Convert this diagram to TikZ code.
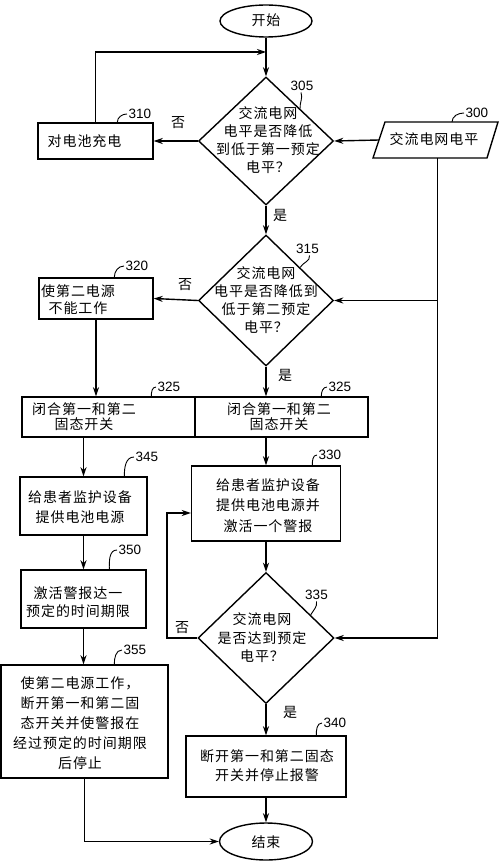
\documentclass[tikz,border=0pt]{standalone}
\usepackage{fontspec}
\newfontfamily\cjk[LetterSpace=7]{Noto Sans CJK SC}
\newfontfamily\numf{Liberation Sans}
\usetikzlibrary{shapes.geometric,arrows.meta,calc}
\begin{document}
\begin{tikzpicture}[x=1pt,y=-1pt,line width=1.4pt,
  >={Stealth[length=9pt,width=6pt]},
  box/.style={draw,rectangle,inner sep=0pt},
  dia/.style={draw,diamond,inner sep=0pt},
  term/.style={draw,ellipse,inner sep=0pt},
  txt/.style={font=\cjk\fontsize{14}{20}\selectfont,align=center,inner sep=0pt},
  num/.style={font=\numf\fontsize{13.5}{13.5}\selectfont,inner sep=0pt,anchor=west},
  lead/.style={line width=0.9pt}]
\useasboundingbox (0,0) rectangle (500,861);
% terminals
\node[term,minimum width=92pt,minimum height=32pt] (start) at (266,21) {};
\node[txt] (tstart) at (266,20) {开始};
\node[term,minimum width=93pt,minimum height=37pt] (end) at (266,841.5) {};
\node[txt] (tend) at (266,842) {结束};
% input (parallelogram)
\coordinate (p300w) at (379,140);
\coordinate (p300s) at (437.5,158);
\coordinate (p300n) at (452,122);
\draw (385,122) -- (498,122) -- (487,158) -- (373,158) -- cycle;
\node[txt] (t300) at (434,139) {交流电网电平};
% diamonds
\node[dia,minimum width=135pt,minimum height=128pt] (d305) at (266,141) {};
\node[txt,font=\cjk\fontsize{14}{18}\selectfont] (t305) at (268,140) {交流电网\\电平是否降低\\到低于第一预定\\电平？};
\node[dia,minimum width=135pt,minimum height=131pt] (d315) at (266,300.5) {};
\node[txt,font=\cjk\fontsize{14}{18}\selectfont] (t315) at (266,300) {交流电网\\电平是否降低到\\低于第二预定\\电平？};
\node[dia,minimum width=136pt,minimum height=131pt] (d335) at (266,638) {};
\node[txt,font=\cjk\fontsize{14}{18.5}\selectfont] (t335) at (262,638) {交流电网\\是否达到预定\\电平？};
% boxes
\node[box,minimum width=115pt,minimum height=36pt] (b310) at (95.5,141) {};
\node[txt] (t310) at (84.5,141) {对电池充电};
\node[box,minimum width=114pt,minimum height=41pt] (b320) at (96,298.5) {};
\node[txt,font=\cjk\fontsize{14}{17}\selectfont] (t320) at (78,299.5) {使第二电源\\不能工作};
\node[box,minimum width=173pt,minimum height=40pt] (b325L) at (108.5,417) {};
\node[txt,font=\cjk\fontsize{14}{15}\selectfont] (t325L) at (84,417) {闭合第一和第二\\固态开关};
\node[box,minimum width=173pt,minimum height=40pt] (b325R) at (281.5,417) {};
\node[txt,font=\cjk\fontsize{14}{15}\selectfont] (t325R) at (279,417) {闭合第一和第二\\固态开关};
\node[box,minimum width=127pt,minimum height=58pt] (b345) at (83.5,506) {};
\node[txt] (t345) at (80,507) {给患者监护设备\\提供电池电源};
\node[box,minimum width=125pt,minimum height=58pt] (b350) at (83.5,599) {};
\node[txt,font=\cjk\fontsize{14}{18}\selectfont] (t350) at (78,602) {激活警报达一\\预定的时间期限};
\node[box,minimum width=167pt,minimum height=113pt] (b355) at (84.5,721.5) {};
\node[txt] (t355) at (80,723) {使第二电源工作，\\断开第一和第二固\\态开关并使警报在\\经过预定的时间期限\\后停止};
\node[box,minimum width=149pt,minimum height=75pt] (b330) at (266,503.5) {};
\node[txt,font=\cjk\fontsize{14}{20.5}\selectfont] (t330) at (268,505.5) {给患者监护设备\\提供电池电源并\\激活一个警报};
\node[box,minimum width=160pt,minimum height=61pt] (b340) at (266,766.5) {};
\node[txt,font=\cjk\fontsize{14}{19}\selectfont] (t340) at (267,765.5) {断开第一和第二固态\\开关并停止报警};
% reference numbers
\node[num,anchor=center] (l305) at (302,86) {305};
\node[num,anchor=center] (l315) at (307.5,249) {315};
\node[num,anchor=center] (l335) at (316.5,595) {335};
\node[num] (l310) at (128,114) {310};
\node[num] (l300) at (465,113) {300};
\node[num] (l320) at (125,266) {320};
\node[num] (l325L) at (157,387) {325};
\node[num] (l325R) at (328,387) {325};
\node[num] (l345) at (135,457) {345};
\node[num] (l350) at (118,550) {350};
\node[num] (l355) at (123,650) {355};
\node[num] (l330) at (318,455) {330};
\node[num] (l340) at (323,723) {340};
% leaders
\draw[lead] ([xshift=-1pt,yshift=-1pt]l305.south) to[out=-70,in=95] ($(d305.north)!0.5!(d305.east)$);
\draw[lead] ([xshift=2pt,yshift=-1pt]l315.south) to[out=-80,in=60] ($(d315.north)!0.5!(d315.east)$);
\draw[lead] ([yshift=-1pt]l335.south) to[out=-80,in=60] ($(d335.north)!0.65!(d335.east)$);
\draw[lead] ([xshift=80pt]b310.north west) to[out=90,in=180] ([xshift=-1pt]l310.west);
\draw[lead] (p300n) to[out=90,in=180] ([xshift=-1pt]l300.west);
\draw[lead] ([xshift=76pt]b320.north west) to[out=90,in=180] ([xshift=-1pt]l320.west);
\draw[lead] ([xshift=130pt]b325L.north west) to[out=90,in=180] ([xshift=-1pt]l325L.west);
\draw[lead] ([xshift=127pt]b325R.north west) to[out=90,in=180] ([xshift=-1pt]l325R.west);
\draw[lead] ([xshift=105pt]b345.north west) to[out=90,in=180] ([xshift=-1pt]l345.west);
\draw[lead] ([xshift=89pt]b350.north west) to[out=90,in=180] ([xshift=-1pt]l350.west);
\draw[lead] ([xshift=114pt]b355.north west) to[out=90,in=180] ([xshift=-1pt]l355.west);
\draw[lead] ([xshift=121.5pt]b330.north west) to[out=90,in=180] ([xshift=-1pt]l330.west);
\draw[lead] ([xshift=131pt]b340.north west) to[out=90,in=180] ([xshift=-1pt]l340.west);
% connectors
\coordinate (m1) at (266,52);
\coordinate (lp) at (167,513);
\draw[->] (start.south) -- (d305.north);
\draw[->] (b310.north) |- (m1);
\draw[->] (d305.west) -- (b310.east);
\draw[->] (p300w) -- (d305.east);
\draw[->] (p300s) |- (d335.east);
\draw[->] (p300s |- d315.east) -- (d315.east);
\draw[->] (d305.south) -- (d315.north);
\draw[->] (d315.west) -- (b320.east);
\draw[->] (b320.south) -- (b320.south |- b325L.north);
\draw[->] (d315.south) -- (d315.south |- b325R.north);
\draw[->] (b345.north |- b325L.south) -- (b345.north);
\draw[->] (b345.south) -- (b350.north);
\draw[->] (b350.south) -- (b350.south |- b355.north);
\draw[->] (b355.south) |- (end.west);
\draw[->] (b330.north |- b325R.south) -- (b330.north);
\draw[->] (b330.south) -- (d335.north);
\draw[->] (d335.west) -| (lp) -- (lp -| b330.west);
\draw[->] (d335.south) -- (b340.north);
\draw[->] (b340.south) -- (end.north);
% branch labels
\node[txt] (n1) at (178,123) {否};
\node[txt] (y1) at (280,215) {是};
\node[txt] (n2) at (185,285) {否};
\node[txt] (y2) at (285,375) {是};
\node[txt] (n3) at (182,628) {否};
\node[txt] (y3) at (290,712) {是};
\end{tikzpicture}
\end{document}
